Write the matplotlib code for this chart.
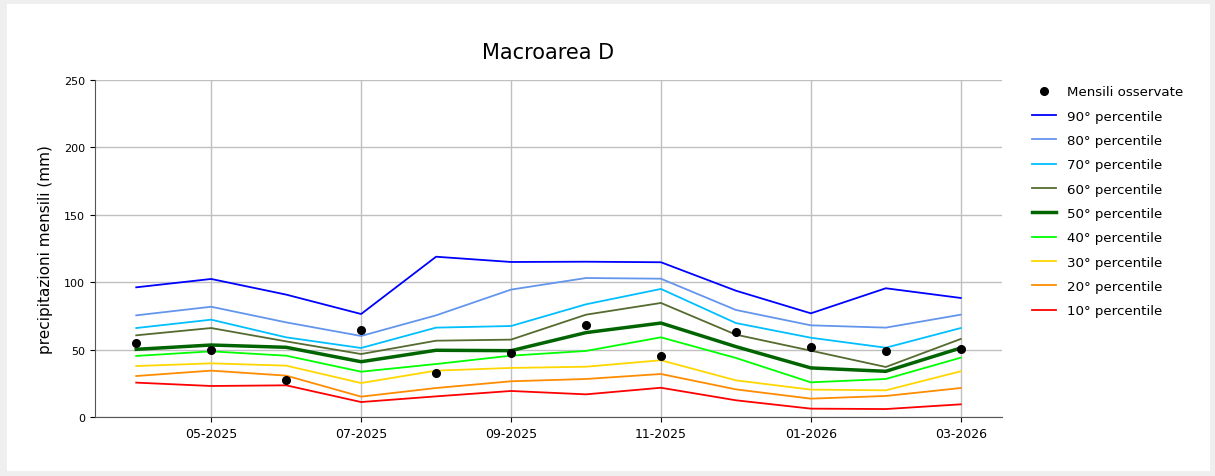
import numpy as np
import matplotlib.pyplot as plt
from matplotlib.patches import Rectangle

months = ["04-2025", "05-2025", "06-2025", "07-2025", "08-2025", "09-2025",
          "10-2025", "11-2025", "12-2025", "01-2026", "02-2026", "03-2026"]

p90 = [96.2, 102.4, 90.8, 76.4, 118.9, 115.0, 115.2, 114.8, 93.7, 76.9, 95.5, 88.3]
p80 = [75.4, 81.8, 70.2, 60.1, 75.4, 94.5, 103.1, 102.6, 79.4, 68.0, 66.3, 75.9]
p70 = [66.0, 72.2, 59.1, 51.2, 66.3, 67.5, 83.6, 95.0, 69.7, 58.8, 51.4, 66.0]
p60 = [60.6, 66.0, 56.1, 46.7, 56.6, 57.4, 75.9, 84.6, 61.1, 49.2, 37.1, 57.9]
p50 = [50.2, 53.4, 51.7, 41.0, 49.5, 49.2, 62.6, 69.7, 52.2, 36.4, 33.9, 51.2]
p40 = [45.3, 48.7, 45.5, 33.6, 39.3, 45.5, 49.0, 59.1, 43.8, 25.7, 28.2, 44.0]
p30 = [37.8, 39.8, 38.1, 25.2, 34.4, 36.4, 37.3, 42.1, 27.2, 20.3, 19.8, 33.9]
p20 = [30.4, 34.4, 30.7, 15.1, 21.5, 26.5, 28.2, 31.9, 20.5, 13.6, 15.6, 21.5]
p10 = [25.5, 23.0, 23.5, 11.1, 15.3, 19.3, 16.8, 21.7, 12.4, 6.2, 5.9, 9.4]
observed = [54.7, 49.5, 27.2, 64.5, 32.6, 47.5, 68.0, 45.3, 63.1, 52.2, 49.2, 50.2]

percentiles = [
    ("90° percentile", p90, "#0000ff", 1.3),
    ("80° percentile", p80, "#6495ed", 1.3),
    ("70° percentile", p70, "#00bfff", 1.3),
    ("60° percentile", p60, "#556b2f", 1.3),
    ("50° percentile", p50, "#006400", 2.5),
    ("40° percentile", p40, "#00ff00", 1.3),
    ("30° percentile", p30, "#ffd700", 1.3),
    ("20° percentile", p20, "#ff8c00", 1.3),
    ("10° percentile", p10, "#ff0000", 1.3),
]

fig = plt.figure(figsize=(12.15, 4.77), dpi=100)
fig.patch.set_facecolor("#efefef")
fig.patches.append(Rectangle((7 / 1215, 5 / 477), 1203 / 1215, 467 / 477,
                             transform=fig.transFigure, facecolor="white",
                             edgecolor="none", zorder=-10))

ax = fig.add_axes([95 / 1215, 59 / 477, 907 / 1215, 337 / 477])
ax.set_facecolor("white")

x = np.arange(len(months))
ax.plot(x, observed, "o", color="black", markersize=5.5, label="Mensili osservate", zorder=5)
for label, vals, color, lw in percentiles:
    ax.plot(x, vals, color=color, linewidth=lw, label=label)

ax.set_xlim(-0.55, len(months) - 0.45)
ax.set_ylim(0, 250)
ax.set_xticks(x[1::2])
ax.set_xticklabels(months[1::2], fontsize=9)
ax.set_yticks([0, 50, 100, 150, 200, 250])
ax.tick_params(axis="y", labelsize=8)
ax.grid(True, color="#c0c0c0", linewidth=1)
ax.set_axisbelow(True)
for side in ["top", "right"]:
    ax.spines[side].set_visible(False)
for side in ["left", "bottom"]:
    ax.spines[side].set_color("#555555")

ax.set_ylabel("precipitazioni mensili (mm)", fontsize=11, labelpad=8)
ax.set_title("Macroarea D", fontsize=15, pad=16)
ax.legend(loc="upper left", bbox_to_anchor=(1.02, 1.02), frameon=False,
          fontsize=9.6, labelspacing=0.85, handlelength=1.8)

fig.savefig("out.png", dpi=100, facecolor=fig.get_facecolor())
